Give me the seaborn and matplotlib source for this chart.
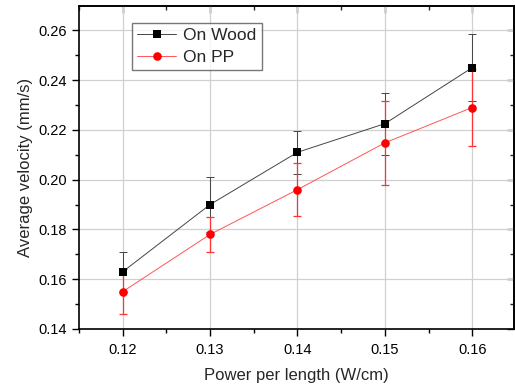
import numpy as np
import pandas as pd
import seaborn as sns
import matplotlib
matplotlib.use("Agg")
import matplotlib.pyplot as plt
from matplotlib.ticker import MultipleLocator

power = [0.12, 0.13, 0.14, 0.15, 0.16]
wood_vel = [0.163, 0.190, 0.211, 0.2225, 0.245]
wood_err = [0.008, 0.011, 0.0086, 0.0124, 0.0135]
pp_vel = [0.155, 0.178, 0.196, 0.2148, 0.229]
pp_err = [0.009, 0.007, 0.0105, 0.017, 0.0153]

df = pd.DataFrame({
    "power": power * 2,
    "velocity": wood_vel + pp_vel,
    "surface": ["On Wood"] * 5 + ["On PP"] * 5,
})

sns.set_style("ticks")
plt.rcParams["font.family"] = ["Liberation Sans", "DejaVu Sans"]

fig = plt.figure(figsize=(5.15, 3.85), dpi=100)
ax = fig.add_axes([0.1534, 0.1455, 0.845, 0.839])

ax.errorbar(power, wood_vel, yerr=wood_err, fmt="none", ecolor="#444444",
            elinewidth=0.7, capsize=3, capthick=0.7, zorder=2)
ax.errorbar(power, pp_vel, yerr=pp_err, fmt="none", ecolor="#ff3333",
            elinewidth=0.9, capsize=3, capthick=0.9, zorder=3)

sns.lineplot(data=df, x="power", y="velocity", hue="surface", style="surface",
             palette={"On Wood": "black", "On PP": "#ff0000"},
             markers={"On Wood": "s", "On PP": "o"}, dashes=False,
             markersize=5.2, markeredgewidth=0, linewidth=0.7, ax=ax, zorder=4)
for line in ax.lines:
    if line.get_color() == "#ff0000":
        line.set_markersize(6.2)
        line.set_color("#ff5555")
        line.set_markerfacecolor("#ff0000")
    elif line.get_color() == "black":
        line.set_color("#444444")
        line.set_markerfacecolor("black")

ax.set_xlim(0.115, 0.1648)
ax.set_ylim(0.14, 0.2698)
ax.xaxis.set_major_locator(MultipleLocator(0.01))
ax.xaxis.set_minor_locator(MultipleLocator(0.005))
ax.yaxis.set_major_locator(MultipleLocator(0.02))
ax.yaxis.set_minor_locator(MultipleLocator(0.01))
ax.set_xticklabels([f"{v:.2f}" for v in ax.get_xticks()])
ax.set_yticklabels([f"{v:.2f}" for v in ax.get_yticks()])

ax.grid(True, which="major", color="#d0d0d0", linewidth=0.9)
ax.tick_params(which="both", direction="out", width=1.0, labelsize=10.5, colors="black")
ax.tick_params(which="major", length=5)
ax.tick_params(which="minor", length=3)
ax.tick_params(axis="x", pad=5)

# inward ticks on top and right
top = ax.secondary_xaxis("top")
top.xaxis.set_major_locator(MultipleLocator(0.01))
top.xaxis.set_minor_locator(MultipleLocator(0.005))
top.tick_params(which="both", direction="in", width=1.0, labeltop=False)
top.tick_params(which="major", length=5)
top.tick_params(which="minor", length=3)
right = ax.secondary_yaxis("right")
right.yaxis.set_major_locator(MultipleLocator(0.02))
right.yaxis.set_minor_locator(MultipleLocator(0.01))
right.tick_params(which="both", direction="in", width=1.0, labelright=False)
right.tick_params(which="major", length=5)
right.tick_params(which="minor", length=3)

for s in list(ax.spines.values()) + [top.spines["top"], right.spines["right"]]:
    s.set_linewidth(1.2)
    s.set_color("black")

ax.set_xlabel("Power per length (W/cm)", fontsize=12, labelpad=8)
ax.set_ylabel("Average velocity (mm/s)", fontsize=12)

leg = ax.legend(title=None, loc="upper left", bbox_to_anchor=(0.122, 0.947),
                borderaxespad=0, fontsize=12.5, frameon=True, fancybox=False,
                edgecolor="#555555", handlelength=2.25, handletextpad=0.4,
                borderpad=0.3, labelspacing=0.35)
leg.get_frame().set_linewidth(1.0)

fig.savefig("out.png", dpi=100)
